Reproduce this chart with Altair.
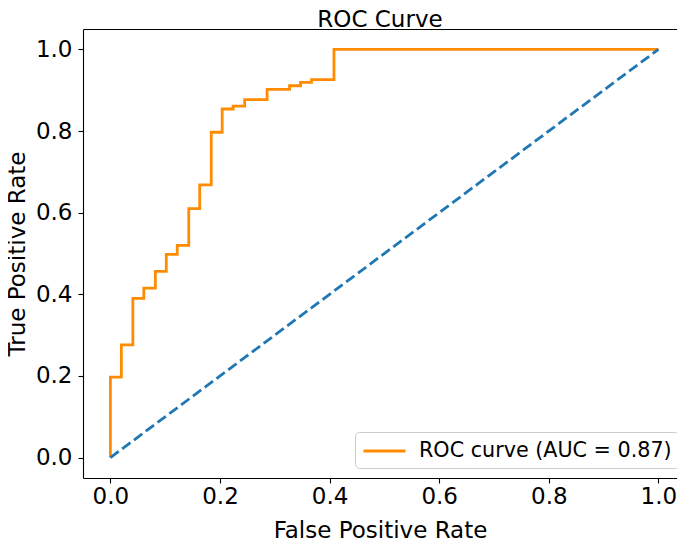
import altair as alt
import pandas as pd

# ROC curve corner points
fpr = [0.0, 0.0, 0.020, 0.020, 0.041, 0.041, 0.061, 0.061, 0.082, 0.082,
       0.102, 0.102, 0.122, 0.122, 0.143, 0.143, 0.163, 0.163, 0.184, 0.184,
       0.204, 0.204, 0.224, 0.224, 0.245, 0.245, 0.286, 0.286, 0.327, 0.327,
       0.347, 0.347, 0.367, 0.367, 0.408, 0.408, 1.0]
tpr = [0.0, 0.197, 0.197, 0.276, 0.276, 0.390, 0.390, 0.415, 0.415, 0.456,
       0.456, 0.498, 0.498, 0.520, 0.520, 0.610, 0.610, 0.668, 0.668, 0.797,
       0.797, 0.854, 0.854, 0.861, 0.861, 0.877, 0.877, 0.902, 0.902, 0.911,
       0.911, 0.919, 0.919, 0.926, 0.926, 1.0, 1.0]

# chance diagonal
diag_fpr = [0.0, 1.0]
diag_tpr = [0.0, 1.0]

tick_values = [0.0, 0.2, 0.4, 0.6, 0.8, 1.0]
series_label = "ROC curve (AUC = 0.87)"
title_text = "ROC Curve"
x_title = "False Positive Rate"
y_title = "True Positive Rate"

roc_df = pd.DataFrame({"fpr": fpr, "tpr": tpr, "order": list(range(len(fpr))),
                       "series": [series_label] * len(fpr)})
diag_df = pd.DataFrame({"fpr": diag_fpr, "tpr": diag_tpr,
                        "order": list(range(len(diag_fpr)))})

FONT = "DejaVu Sans"

# the reference frame runs past the right edge of the picture
xscale = alt.Scale(domain=[-0.05, 1.034], nice=False, zero=False)
yscale = alt.Scale(domain=[-0.05, 1.05], nice=False, zero=False)

roc = alt.Chart(roc_df).mark_line(strokeWidth=2.8).encode(
    x=alt.X("fpr:Q", scale=xscale,
            axis=alt.Axis(title=x_title, values=tick_values, format=".1f")),
    y=alt.Y("tpr:Q", scale=yscale,
            axis=alt.Axis(title=y_title, values=tick_values, format=".1f")),
    order="order:Q",
    color=alt.Color(
        "series:N",
        scale=alt.Scale(domain=[series_label], range=["#ff8c00"]),
        legend=alt.Legend(
            title=None, orient="none", legendX=272, legendY=403, padding=7,
            strokeColor="#cccccc", fillColor="white", cornerRadius=4,
            symbolType="M-1,0H3", symbolSize=441, symbolStrokeWidth=2.8,
            labelFontSize=20.7, labelFont=FONT, labelColor="black",
            labelOffset=33, labelLimit=0,
        ),
    ),
)

diag = alt.Chart(diag_df).mark_line(
    strokeWidth=2.8, strokeDash=[10.3, 4.4], color="#1f77b4"
).encode(
    x=alt.X("fpr:Q", scale=xscale,
            axis=alt.Axis(orient="top", labels=False, ticks=False,
                          domain=True, title=None)),
    y=alt.Y("tpr:Q", scale=yscale),
    order="order:Q",
)

chart = alt.layer(roc, diag).resolve_axis(x="independent").properties(
    width=594,
    height=449,
    title=alt.TitleParams(text=title_text, fontSize=23, font=FONT,
                          fontWeight="normal", color="black", anchor="middle",
                          baseline="alphabetic", offset=4, dy=25),
    autosize=alt.AutoSizeParams(type="none"),
    padding={"left": 75, "top": 21, "right": 0, "bottom": 75},
).configure_view(
    strokeWidth=0
).configure_axis(
    labelFont=FONT, titleFont=FONT, labelFontSize=23, titleFontSize=23,
    titleFontWeight="normal", labelColor="black", titleColor="black",
    tickColor="black", tickSize=5, tickWidth=1.1, domain=True,
    domainColor="black", domainWidth=1.1, grid=False,
).configure_axisX(
    labelPadding=2, titlePadding=11
).configure_axisY(
    labelPadding=6, titlePadding=6
)

chart.save("out.html", embed_options={"renderer": "svg", "actions": False})
